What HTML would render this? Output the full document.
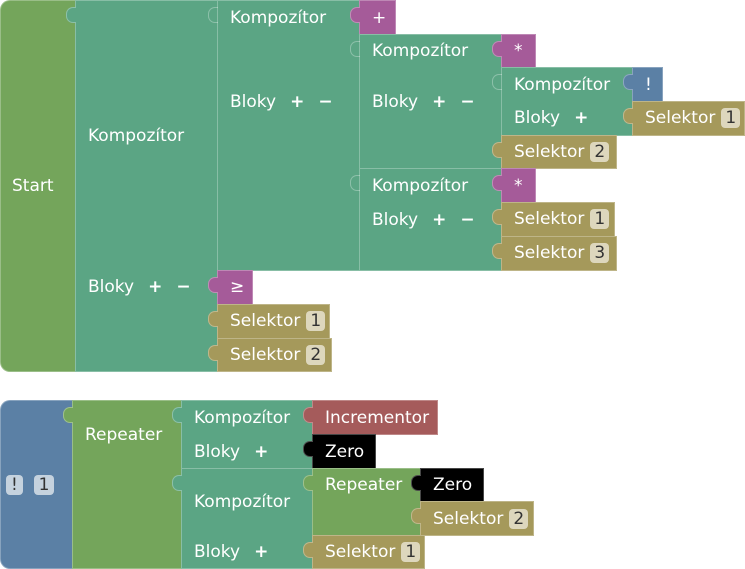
<!DOCTYPE html>
<html><head><meta charset="utf-8"><style>
body{margin:0;width:745px;height:569px;background:#fff;position:relative;overflow:hidden;font-family:"DejaVu Sans","Liberation Sans",sans-serif;font-size:17px;color:#fff}
.b{position:absolute;box-sizing:border-box;border:1px solid rgba(255,255,255,0.28)}
.t{position:absolute;box-sizing:border-box;width:10px;height:16px;border-radius:7px 0 0 7px;border:1px solid rgba(255,255,255,0.3);border-right:none}
.o{background:transparent!important}
.l{position:absolute;line-height:20px;white-space:nowrap}
.g{background:#74a55b}.k{background:#5ba584}.p{background:#a55b99}.s{background:#a5995b}.u{background:#5b80a5}.r{background:#a55b5b}.z{background:#000}
.bd{display:inline-block;background:#ddd7bd;color:#333;border-radius:4px;padding:0 4px;line-height:20px;margin-left:6px}
.bu{display:inline-block;background:#c5d2de;color:#333;border-radius:4px;padding:0 5px;line-height:20px}
.pm{font-weight:bold;margin-left:14px}
</style></head><body>
<div class="b g" style="left:0;top:0;width:76px;height:372px;border-radius:10px 0 0 10px"></div>
<div class="l" style="left:12px;top:176px">Start</div>
<div class="b k" style="left:75px;top:0;width:143px;height:372px"></div><div class="t k" style="left:66px;top:7px"></div>
<div class="l" style="left:88px;top:126px">Kompozítor</div>
<div class="l" style="left:88px;top:277px">Bloky<span class="pm">+</span><span class="pm">−</span></div>
<div class="b k" style="left:217px;top:0;width:143px;height:271px"></div><div class="t k o" style="left:208px;top:7px"></div>
<div class="l" style="left:230px;top:8px">Kompozítor</div>
<div class="l" style="left:230px;top:92px">Bloky<span class="pm">+</span><span class="pm">−</span></div>
<div class="b p" style="left:359px;top:0;width:37px;height:35px"></div><div class="t p" style="left:350px;top:7px"></div>
<div class="l" style="left:372px;top:8px">+</div>
<div class="b k" style="left:359px;top:34px;width:143px;height:135px"></div><div class="t k o" style="left:350px;top:41px"></div>
<div class="l" style="left:372px;top:41px">Kompozítor</div>
<div class="l" style="left:372px;top:92px">Bloky<span class="pm">+</span><span class="pm">−</span></div>
<div class="b p" style="left:501px;top:34px;width:35px;height:34px"></div><div class="t p" style="left:492px;top:41px"></div>
<div class="l" style="left:514px;top:41px">*</div>
<div class="b k" style="left:501px;top:67px;width:132px;height:69px"></div><div class="t k o" style="left:492px;top:74px"></div>
<div class="l" style="left:514px;top:75px">Kompozítor</div>
<div class="l" style="left:514px;top:108px">Bloky<span class="pm">+</span></div>
<div class="b u" style="left:632px;top:67px;width:31px;height:35px"></div><div class="t u" style="left:623px;top:74px"></div>
<div class="l" style="left:645px;top:75px">!</div>
<div class="b s" style="left:632px;top:101px;width:113px;height:35px"></div><div class="t s" style="left:623px;top:108px"></div>
<div class="l" style="left:645px;top:108px">Selektor<span class="bd">1</span></div>
<div class="b s" style="left:501px;top:135px;width:116px;height:34px"></div><div class="t s" style="left:492px;top:142px"></div>
<div class="l" style="left:514px;top:142px">Selektor<span class="bd">2</span></div>
<div class="b k" style="left:359px;top:168px;width:143px;height:103px"></div><div class="t k o" style="left:350px;top:175px"></div>
<div class="l" style="left:372px;top:176px">Kompozítor</div>
<div class="l" style="left:372px;top:210px">Bloky<span class="pm">+</span><span class="pm">−</span></div>
<div class="b p" style="left:501px;top:168px;width:35px;height:35px"></div><div class="t p" style="left:492px;top:175px"></div>
<div class="l" style="left:514px;top:176px">*</div>
<div class="b s" style="left:501px;top:202px;width:114px;height:35px"></div><div class="t s" style="left:492px;top:209px"></div>
<div class="l" style="left:514px;top:209px">Selektor<span class="bd">1</span></div>
<div class="b s" style="left:501px;top:236px;width:116px;height:35px"></div><div class="t s" style="left:492px;top:243px"></div>
<div class="l" style="left:514px;top:243px">Selektor<span class="bd">3</span></div>
<div class="b p" style="left:217px;top:270px;width:36px;height:35px"></div><div class="t p" style="left:208px;top:277px"></div>
<div class="l" style="left:230px;top:277px">≥</div>
<div class="b s" style="left:217px;top:304px;width:113px;height:35px"></div><div class="t s" style="left:208px;top:311px"></div>
<div class="l" style="left:230px;top:311px">Selektor<span class="bd">1</span></div>
<div class="b s" style="left:217px;top:338px;width:115px;height:34px"></div><div class="t s" style="left:208px;top:345px"></div>
<div class="l" style="left:230px;top:345px">Selektor<span class="bd">2</span></div>
<div class="b u" style="left:0;top:400px;width:73px;height:169px;border-radius:10px 0 0 10px"></div>
<div class="l" style="left:6px;top:475px"><span class="bu">!</span>&nbsp;&nbsp;<span class="bu">1</span></div>
<div class="b g" style="left:72px;top:400px;width:110px;height:169px"></div><div class="t g" style="left:63px;top:407px"></div>
<div class="l" style="left:85px;top:425px">Repeater</div>
<div class="b k" style="left:181px;top:400px;width:132px;height:69px"></div><div class="t k" style="left:172px;top:407px"></div>
<div class="l" style="left:194px;top:408px">Kompozítor</div>
<div class="l" style="left:194px;top:442px">Bloky<span class="pm">+</span></div>
<div class="b r" style="left:312px;top:400px;width:126px;height:35px"></div><div class="t r" style="left:303px;top:407px"></div>
<div class="l" style="left:325px;top:408px">Incrementor</div>
<div class="b z" style="left:312px;top:434px;width:64px;height:35px"></div><div class="t z" style="left:303px;top:441px"></div>
<div class="l" style="left:325px;top:442px">Zero</div>
<div class="b k" style="left:181px;top:468px;width:132px;height:101px"></div><div class="t k" style="left:172px;top:475px"></div>
<div class="l" style="left:194px;top:492px">Kompozítor</div>
<div class="l" style="left:194px;top:542px">Bloky<span class="pm">+</span></div>
<div class="b g" style="left:312px;top:468px;width:109px;height:68px"></div><div class="t g" style="left:303px;top:475px"></div>
<div class="l" style="left:325px;top:475px">Repeater</div>
<div class="b z" style="left:420px;top:468px;width:64px;height:34px"></div><div class="t z" style="left:411px;top:475px"></div>
<div class="l" style="left:433px;top:475px">Zero</div>
<div class="b s" style="left:420px;top:501px;width:114px;height:35px"></div><div class="t s" style="left:411px;top:508px"></div>
<div class="l" style="left:433px;top:509px">Selektor<span class="bd">2</span></div>
<div class="b s" style="left:312px;top:535px;width:113px;height:34px"></div><div class="t s" style="left:303px;top:542px"></div>
<div class="l" style="left:325px;top:542px">Selektor<span class="bd">1</span></div>
</body></html>
